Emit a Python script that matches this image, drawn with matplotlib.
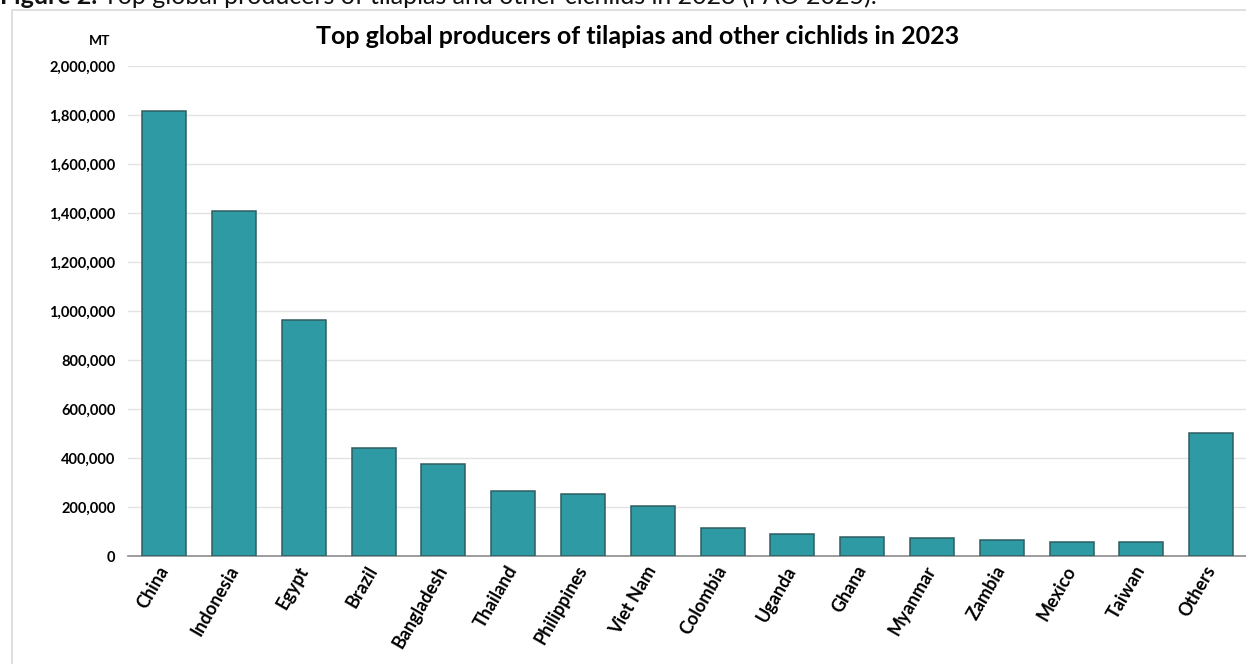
import matplotlib.pyplot as plt
import matplotlib.ticker as mticker
from matplotlib.patches import Rectangle

# data (MT)
countries = ['China', 'Indonesia', 'Egypt', 'Brazil', 'Bangladesh', 'Thailand',
             'Philippines', 'Viet Nam', 'Colombia', 'Uganda', 'Ghana', 'Myanmar',
             'Zambia', 'Mexico', 'Taiwan', 'Others']
production = [1816000, 1410000, 964000, 442000, 374000, 266000,
              254000, 206000, 114000, 90000, 76000, 75000,
              66000, 57000, 57000, 502000]
y_ticks = [0, 200000, 400000, 600000, 800000, 1000000, 1200000,
           1400000, 1600000, 1800000, 2000000]

plt.rcParams['font.family'] = ['Lato', 'DejaVu Sans']

W, H = 1246, 664
fig = plt.figure(figsize=(W / 100, H / 100), dpi=100)

# light frame around the chart
fig.patches.append(Rectangle((12 / W, -0.05), 1.1, (H - 10) / H + 0.05,
                             transform=fig.transFigure, fill=False,
                             edgecolor='#D9D9D9', linewidth=1.2))

# caption, cut off at the top edge like the source
cap_y = 1 - 4 / H
t1 = fig.text(0.0, cap_y, 'Figure 2.', fontsize=18, fontweight='bold',
              ha='left', va='baseline', color='#111111')
fig.canvas.draw()
bb = t1.get_window_extent()
fig.text(bb.x1 / W + 6 / W, cap_y,
         'Top global producers of tilapias and other cichlids in 2023 (FAO 2025).',
         fontsize=18, ha='left', va='baseline', color='#111111')

ax = fig.add_axes([128 / W, 108 / H, 1 - 128 / W, 490 / H])
x = range(len(countries))
ax.bar(x, production, width=0.63, color='#2E9AA4', edgecolor='#2F5D62',
       linewidth=1.1, zorder=3)

ax.set_xlim(-0.52, len(countries) - 0.5)
ax.set_ylim(0, 2000000)
ax.set_yticks(y_ticks)
ax.yaxis.set_major_formatter(mticker.FuncFormatter(lambda v, p: f'{int(v):,}'))
ax.grid(axis='y', color='#E3E3E3', linewidth=1, zorder=0)

for s in ['top', 'right', 'left']:
    ax.spines[s].set_visible(False)
ax.spines['bottom'].set_color('#8C8C8C')
ax.spines['bottom'].set_linewidth(1.2)

ax.tick_params(axis='y', length=0, pad=9, labelsize=10.5)
ax.tick_params(axis='x', length=0, pad=8)
for lab in ax.get_yticklabels():
    lab.set_fontweight('bold')
ax.set_xticks(list(x))
ax.set_xticklabels(countries, rotation=60, ha='right', va='center',
                   rotation_mode='anchor', fontsize=13, fontweight='bold')

fig.text(100 / W, 1 - 41 / H, 'MT', fontsize=10, fontweight='bold',
         ha='center', va='center')
fig.text(638 / W, 1 - 36 / H,
         'Top global producers of tilapias and other cichlids in 2023',
         fontsize=18, fontweight='bold', ha='center', va='center')

fig.savefig('out.png', dpi=100)
